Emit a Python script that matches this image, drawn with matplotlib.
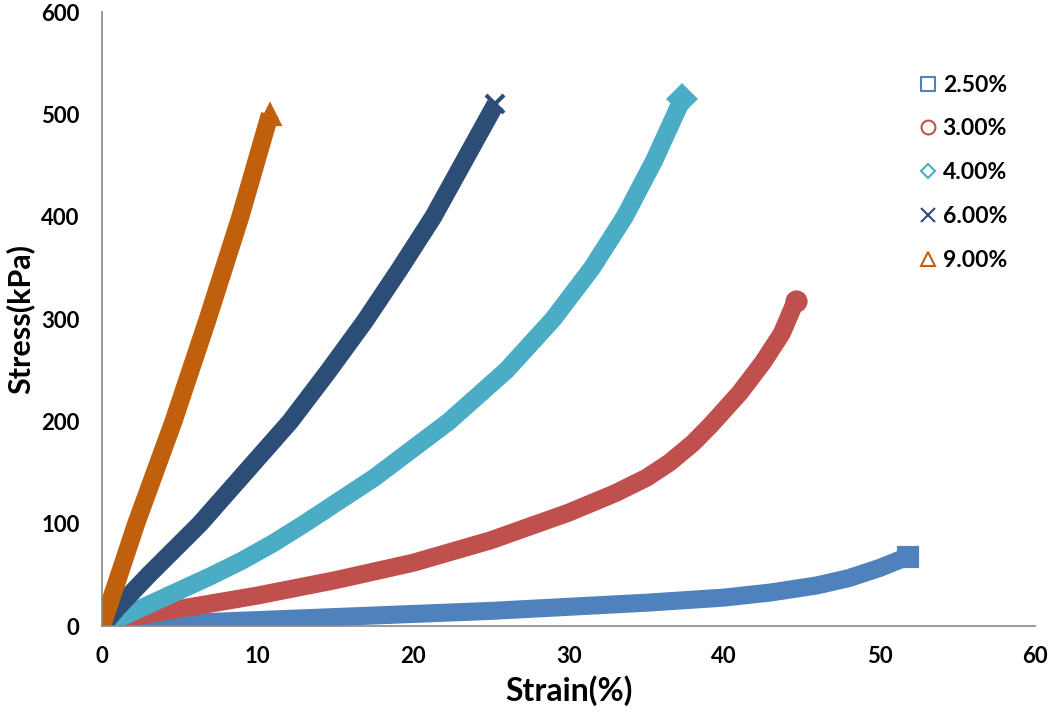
import matplotlib.pyplot as plt
from matplotlib.lines import Line2D

plt.rcParams['font.family'] = ['Lato', 'DejaVu Sans']
plt.rcParams['font.weight'] = 'bold'

labels = ['2.50%', '3.00%', '4.00%', '6.00%', '9.00%']
colors = ['#4F81BD', '#C0504D', '#4BACC6', '#2C4D75', '#C0600C']
markers = ['s', 'o', 'D', 'x', '^']

# strain (%) / stress (kPa)
x_25 = [0, 2, 5, 10, 15, 20, 25, 30, 35, 40, 43, 46, 48, 50, 51.8]
y_25 = [0, 1, 3, 6, 9, 12, 15, 19, 23, 28, 33, 40, 47, 57, 68]
x_30 = [0, 1, 3, 5, 10, 15, 20, 25, 30, 33, 35, 36.5, 38, 39.1, 41, 42.5, 43.7, 44.6]
y_30 = [0, 6, 12, 17, 30, 45, 62, 84, 111, 130, 145, 160, 179, 196, 228, 258, 286, 318]
x_40 = [0, 2, 5, 7, 9, 11, 13, 17.5, 22.3, 26, 29.0, 31.5, 33.6, 35.5, 37.3]
y_40 = [0, 14, 35, 49, 64, 81, 100, 145, 200, 250, 300, 350, 400, 455, 515]
x_60 = [0, 1, 3, 6.3, 9.2, 12.1, 14.5, 16.9, 19.1, 21.3, 23.3, 25.3]
y_60 = [0, 18, 50, 100, 150, 200, 248, 298, 348, 400, 455, 510]
x_90 = [0, 1, 2.2, 4.6, 6.8, 8.9, 10.8]
y_90 = [0, 45, 100, 200, 300, 400, 500]

xs = [x_25, x_30, x_40, x_60, x_90]
ys = [y_25, y_30, y_40, y_60, y_90]

fig = plt.figure(figsize=(10.5, 7.19), dpi=100)
ax = fig.add_axes([0.097, 0.129, 0.889, 0.854])

for x, y, c in zip(xs, ys, colors):
    ax.plot(x, y, color=c, lw=13, solid_capstyle='butt', solid_joinstyle='round')
for x, y, c, m in zip(xs, ys, colors, markers):
    ax.plot(x[-1:], y[-1:], ls='none', marker=m, color=c, ms=13,
            mec=c, mew=3)

ax.set_xlim(0, 60)
ax.set_ylim(0, 600)
ax.set_xticks(range(0, 61, 10))
ax.set_yticks(range(0, 601, 100))
ax.tick_params(length=0, labelsize=16)
ax.tick_params(axis='x', pad=14)
ax.tick_params(axis='y', pad=16)
for s in ['top', 'right']:
    ax.spines[s].set_visible(False)
for s in ['left', 'bottom']:
    ax.spines[s].set_color('#888888')
    ax.spines[s].set_linewidth(1.2)

ax.set_xlabel('Strain(%)', fontsize=23, fontweight='bold', labelpad=6)
ax.set_ylabel('Stress(kPa)', fontsize=22, fontweight='bold', labelpad=5)

handles = []
for m, c in zip(markers, colors):
    handles.append(Line2D([], [], ls='none', marker=m, mfc='none', mec=c, mew=1.5,
                          ms=7 if m == 'D' else 10))
fig.legend(handles, labels, loc='upper left', bbox_to_anchor=(0.853, 0.925),
           frameon=False, fontsize=16.5, labelspacing=1.0, handletextpad=0.15,
           handlelength=1.0)

fig.savefig('out.png', dpi=100)
